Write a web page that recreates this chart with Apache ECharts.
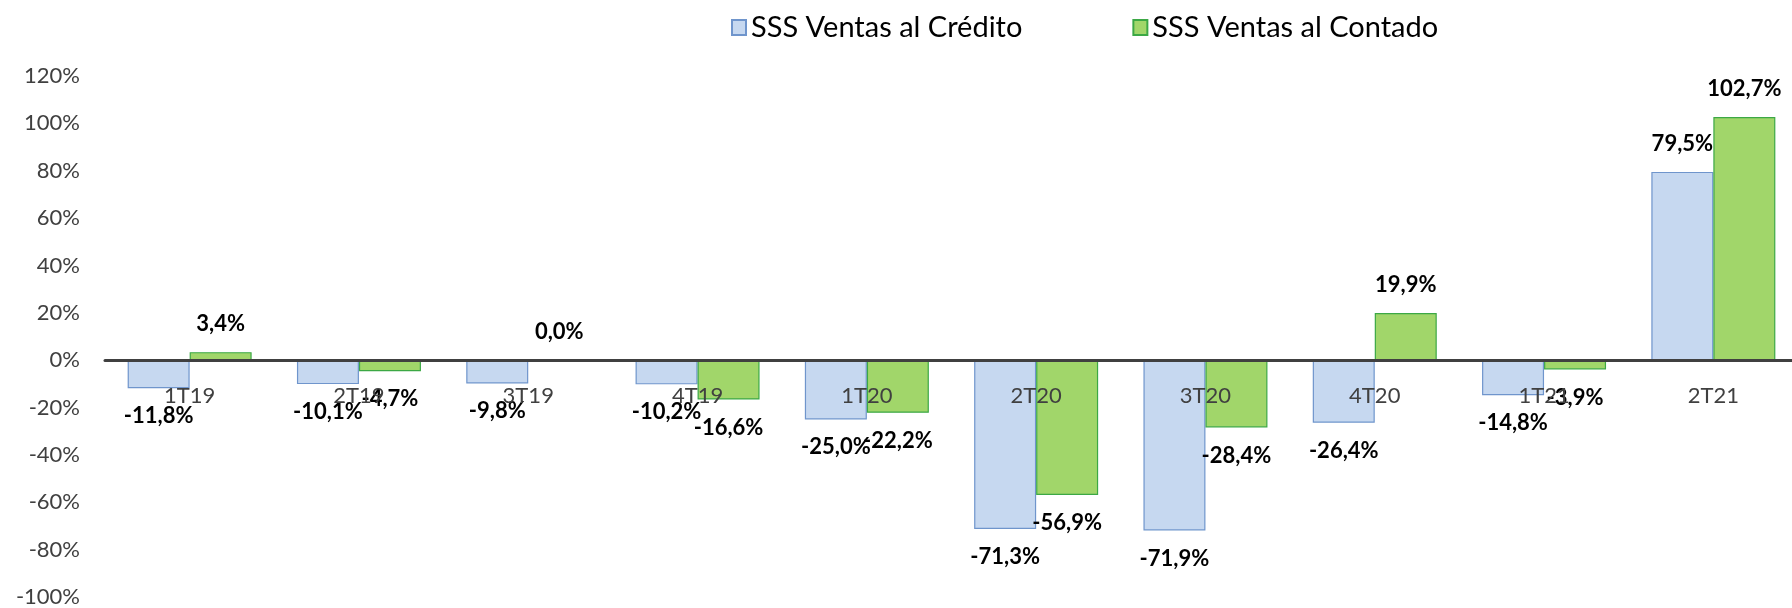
<!DOCTYPE html>
<html>
<head>
<meta charset="utf-8">
<script src="https://cdn.jsdelivr.net/npm/echarts@6/dist/echarts.min.js"></script>
<style>
  html, body { margin: 0; padding: 0; background: #fff; }
  #chart { width: 1792px; height: 608px; }
</style>
</head>
<body>
<div id="chart"></div>
<script>
// datos
var quarters = ['1T19', '2T19', '3T19', '4T19', '1T20', '2T20', '3T20', '4T20', '1T21', '2T21'];
var credito = [-11.8, -10.1, -9.8, -10.2, -25.0, -71.3, -71.9, -26.4, -14.8, 79.5];
var contado = [3.4, -4.7, 0.0, -16.6, -22.2, -56.9, -28.4, 19.9, -3.9, 102.7];
var yTicks = { min: -100, max: 120, step: 20 };

var fontName = 'Lato';
var gridTop = 76, gridBottom = 11;
var gridHeight = 608 - gridTop - gridBottom;
// el eje de categorias va sobre la linea del 0%
var zeroOffset = -gridHeight * (0 - yTicks.min) / (yTicks.max - yTicks.min);

function pct(v) {
  return v.toFixed(1).replace('.', ',') + '%';
}

// etiqueta fuera del extremo de la barra, arriba o abajo segun el signo
function withLabels(arr) {
  return arr.map(function (v) {
    return {
      value: v,
      label: { position: v < 0 ? 'bottom' : 'top' }
    };
  });
}

var labelStyle = {
  show: true,
  distance: 17,
  color: '#000',
  fontFamily: fontName,
  fontWeight: 'bold',
  fontSize: 22,
  formatter: function (p) { return pct(p.value); }
};

var chart = echarts.init(document.getElementById('chart'));

chart.setOption({
  backgroundColor: '#fff',
  animation: false,
  legend: {
    top: 8,
    left: 726,
    itemWidth: 14,
    itemHeight: 15,
    itemGap: 110,
    icon: 'rect',
    textStyle: { fontFamily: fontName, fontSize: 29, color: '#000' },
    data: ['SSS Ventas al Crédito', 'SSS Ventas al Contado']
  },
  grid: {
    left: 105, right: -6, top: gridTop, bottom: gridBottom,
    containLabel: false, outerBoundsMode: 'none'
  },
  xAxis: {
    type: 'category',
    data: quarters,
    z: 10,
    offset: zeroOffset,
    axisLine: { onZero: false, lineStyle: { color: '#404040', width: 3 } },
    axisTick: { show: false },
    axisLabel: { margin: 25, color: '#404040', fontFamily: fontName, fontSize: 22 }
  },
  yAxis: {
    type: 'value',
    min: yTicks.min,
    max: yTicks.max,
    interval: yTicks.step,
    axisLine: { show: false },
    axisTick: { show: false },
    splitLine: { show: false },
    axisLabel: {
      margin: 25,
      color: '#404040',
      fontFamily: fontName,
      fontSize: 22,
      formatter: function (v) { return v + '%'; }
    }
  },
  series: [
    {
      name: 'SSS Ventas al Crédito',
      type: 'bar',
      barWidth: 62,
      barGap: '0%',
      itemStyle: { color: '#C6D8F0', borderColor: '#6F95CC', borderWidth: 1.2 },
      label: labelStyle,
      data: withLabels(credito)
    },
    {
      name: 'SSS Ventas al Contado',
      type: 'bar',
      barWidth: 62,
      barGap: '0%',
      itemStyle: { color: '#A1D66A', borderColor: '#3CA845', borderWidth: 1.2 },
      label: labelStyle,
      data: withLabels(contado)
    }
  ]
});

window.addEventListener('resize', function () { chart.resize(); });
</script>
</body>
</html>
